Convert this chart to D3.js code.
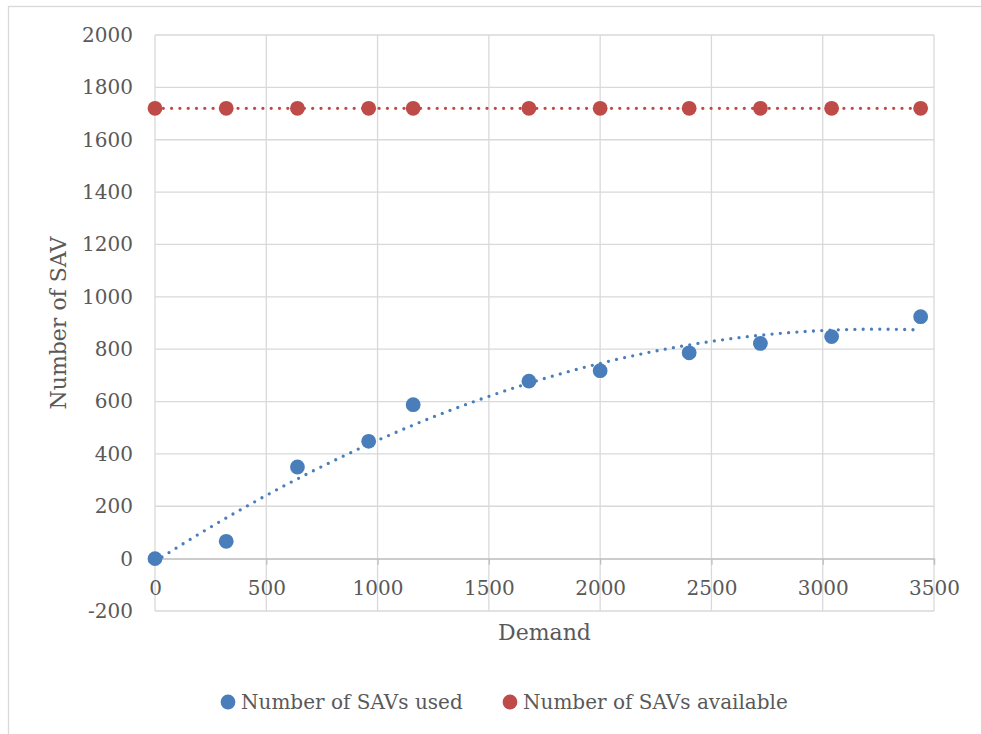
<!DOCTYPE html>
<html>
<head>
<meta charset="utf-8">
<script src="https://cdn.jsdelivr.net/npm/d3@7"></script>
<style>
  body { margin: 0; background: #fff; }
  text { font-family: "DejaVu Serif", serif; fill: #595959; }
</style>
</head>
<body>
<svg id="chart" width="981" height="734"></svg>
<script>
// data
var demand = [0, 320, 640, 960, 1160, 1680, 2000, 2400, 2720, 3040, 3440];
var savsUsed = [0, 66, 350, 448, 588, 678, 718, 786, 822, 848, 924];
var savsAvailable = [1720, 1720, 1720, 1720, 1720, 1720, 1720, 1720, 1720, 1720, 1720];
var xTicks = [0, 500, 1000, 1500, 2000, 2500, 3000, 3500];
var yTicks = [-200, 0, 200, 400, 600, 800, 1000, 1200, 1400, 1600, 1800, 2000];
var seriesNames = ["Number of SAVs used", "Number of SAVs available"];
var colors = ["#4a7ebb", "#be4b48"];

var svg = d3.select("#chart");

// plain integer labels, hyphen minus like the original
var fmt = function (d) { return String(d); };

// outer chart border
svg.append("rect")
    .attr("x", 8.5).attr("y", 6.5)
    .attr("width", 1000).attr("height", 800)
    .attr("fill", "none")
    .attr("stroke", "#d9d9d9")
    .attr("stroke-width", 1.3);

var xScale = d3.scaleLinear().domain([0, 3500]).range([155, 934]);
var yScale = d3.scaleLinear().domain([-200, 2000]).range([611, 35]);

// gridlines
var grid = svg.append("g");
grid.selectAll(".hgrid")
    .data(yTicks)
    .enter()
    .append("line")
    .attr("x1", xScale(0)).attr("x2", xScale(3500))
    .attr("y1", function (d) { return yScale(d); })
    .attr("y2", function (d) { return yScale(d); })
    .attr("stroke", "#d9d9d9")
    .attr("stroke-width", 1.3);
grid.selectAll(".vgrid")
    .data(xTicks)
    .enter()
    .append("line")
    .attr("x1", function (d) { return xScale(d); })
    .attr("x2", function (d) { return xScale(d); })
    .attr("y1", yScale(2000)).attr("y2", yScale(-200))
    .attr("stroke", "#d9d9d9")
    .attr("stroke-width", 1.3);

// y axis labels
svg.append("g")
    .attr("transform", "translate(" + xScale(0) + ",0)")
    .call(d3.axisLeft(yScale).tickValues(yTicks).tickFormat(fmt).tickSize(0).tickPadding(22))
    .call(function (g) { g.select(".domain").remove(); })
    .selectAll("text")
    .style("font-family", "DejaVu Serif")
    .style("font-size", "20px")
    .attr("fill", "#595959");

// x axis sits on zero
var xAxis = svg.append("g")
    .attr("transform", "translate(0," + yScale(0) + ")")
    .call(d3.axisBottom(xScale).tickValues(xTicks).tickFormat(fmt).tickSize(6).tickPadding(16));
xAxis.select(".domain").attr("stroke", "#bfbfbf").attr("stroke-width", 1.3);
xAxis.selectAll(".tick line").attr("stroke", "#bfbfbf").attr("stroke-width", 1.3);
xAxis.selectAll("text")
    .style("font-family", "DejaVu Serif")
    .style("font-size", "20px")
    .attr("fill", "#595959");

// axis titles
svg.append("text")
    .attr("x", (xScale(0) + xScale(3500)) / 2)
    .attr("y", 640)
    .attr("text-anchor", "middle")
    .style("font-size", "22px")
    .text("Demand");
svg.append("text")
    .attr("transform", "translate(66," + (yScale(2000) + yScale(-200)) / 2 + ") rotate(-90)")
    .attr("text-anchor", "middle")
    .style("font-size", "22px")
    .text("Number of SAV");

// least squares polynomial fit, like the spreadsheet trendline
function polyFit(xs, ys, order) {
    var n = order + 1;
    var A = [];
    for (var r = 0; r < n; r++) {
        A.push([]);
        for (var c = 0; c <= n; c++) A[r].push(0);
    }
    xs.forEach(function (x, i) {
        for (var r = 0; r < n; r++) {
            for (var c = 0; c < n; c++) A[r][c] += Math.pow(x, r + c);
            A[r][n] += ys[i] * Math.pow(x, r);
        }
    });
    for (var p = 0; p < n; p++) {
        for (var q = p + 1; q < n; q++) {
            var f = A[q][p] / A[p][p];
            for (var k = p; k <= n; k++) A[q][k] -= f * A[p][k];
        }
    }
    var coef = new Array(n).fill(0);
    for (var i = n - 1; i >= 0; i--) {
        var s = A[i][n];
        for (var j = i + 1; j < n; j++) s -= A[i][j] * coef[j];
        coef[i] = s / A[i][i];
    }
    return function (x) {
        return coef.reduce(function (acc, cf, k) { return acc + cf * Math.pow(x, k); }, 0);
    };
}

var trendUsed = polyFit(demand, savsUsed, 2);
var trendAvail = polyFit(demand, savsAvailable, 1);
var xMin = d3.min(demand), xMax = d3.max(demand);
var samples = d3.range(0, 101).map(function (i) { return xMin + (xMax - xMin) * i / 100; });

var lineGenerator = d3.line()
    .x(function (d) { return xScale(d[0]); })
    .y(function (d) { return yScale(d[1]); })
    .curve(d3.curveLinear);

[trendUsed, trendAvail].forEach(function (fn, i) {
    svg.append("path")
        .datum(samples.map(function (x) { return [x, fn(x)]; }))
        .attr("fill", "none")
        .attr("stroke", colors[i])
        .attr("stroke-width", 3.3)
        .attr("stroke-linecap", "round")
        .attr("stroke-dasharray", "0 8.3")
        .attr("d", lineGenerator);
});

// markers
[savsUsed, savsAvailable].forEach(function (vals, i) {
    svg.append("g")
        .selectAll("circle")
        .data(vals)
        .enter()
        .append("circle")
        .attr("cx", function (d, j) { return xScale(demand[j]); })
        .attr("cy", function (d) { return yScale(d); })
        .attr("r", 7.4)
        .attr("fill", colors[i]);
});

// legend
var legendX = [228, 510];
var legend = svg.append("g");
seriesNames.forEach(function (name, i) {
    legend.append("circle")
        .attr("cx", legendX[i]).attr("cy", 702)
        .attr("r", 7.4)
        .attr("fill", colors[i]);
    legend.append("text")
        .attr("x", legendX[i] + 13)
        .attr("y", 709)
        .style("font-size", "20px")
        .text(name);
});
</script>
</body>
</html>
